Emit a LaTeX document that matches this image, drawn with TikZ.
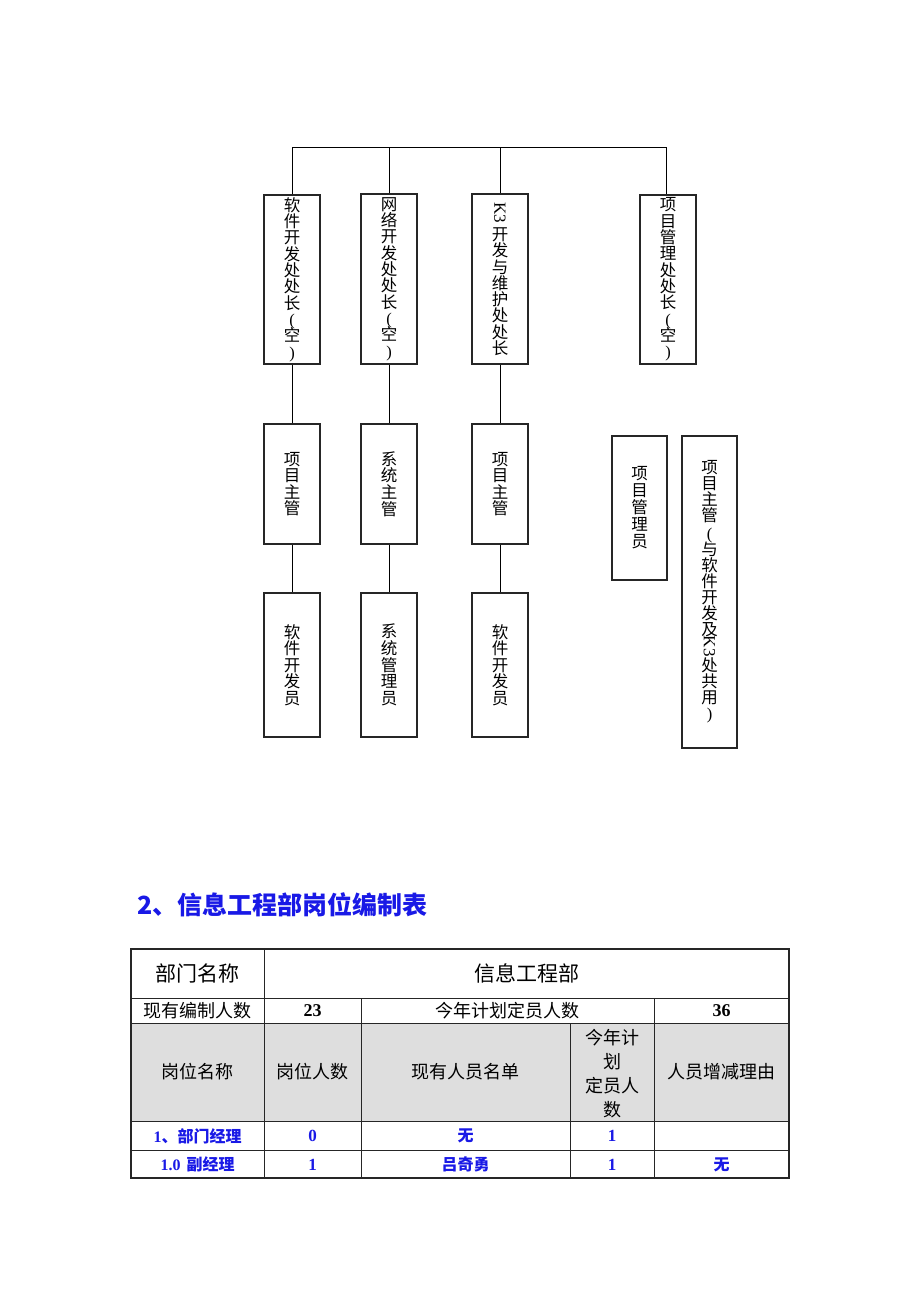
\documentclass[tikz,border=0pt]{standalone}
\usepackage{fontspec}
\usepackage{graphicx}
\usetikzlibrary{calc}
\newfontfamily\cjk{Noto Sans CJK SC}
\newfontfamily\serif{Liberation Serif}
\definecolor{tblue}{RGB}{25,25,230}
\definecolor{hdrgray}{RGB}{222,222,222}
\newcommand\orgfont[2]{\cjk\fontsize{#1}{#2}\selectfont\lineskiplimit=-20pt\relax}
\newcommand\lp{{\serif(}}
\newcommand\rp{{\serif)}}
\begin{document}
\begin{tikzpicture}[x=1pt,y=-1pt,
 orgbox/.style={draw=black!85, line width=1.2pt, inner sep=0pt, align=center, minimum width=56pt},
 tall/.style={font={\orgfont{16.5}{16.3}}},
 short/.style={font={\orgfont{16.5}{16.6}}},
 link/.style={draw=black, line width=0.8pt},
 cell/.style={inner sep=0pt, align=center},
 big/.style={font=\cjk\fontsize{21}{24}\selectfont},
 mid/.style={font=\cjk\fontsize{18}{24}\selectfont},
 num/.style={font=\serif\bfseries\fontsize{18}{20}\selectfont},
 bluetxt/.style={text=tblue, font=\cjk\bfseries\fontsize{16}{18}\selectfont},
 bluenum/.style={text=tblue, font=\serif\bfseries\fontsize{17}{18}\selectfont},
 outer/.style={draw=black!85, line width=1.3pt},
 inner/.style={draw=black!85, line width=0.8pt},
]
\useasboundingbox (0,0) rectangle (920,1302);

% ---------- org chart ----------
\coordinate (bus) at (0,147);
\node[orgbox, tall, minimum height=169pt] (A) at (292,279.5) {软\\件\\开\\发\\处\\处\\长\\\lp\\空\\\rp};
\node[orgbox, tall, minimum height=170pt] (B) at (389,279) {网\\络\\开\\发\\处\\处\\长\\\lp\\空\\\rp};
\node[orgbox, tall, minimum height=170pt] (C) at (500,279) {\rotatebox[origin=c]{-90}{\serif\fontsize{17}{17}\selectfont K3}\\[6pt]开\\发\\与\\维\\护\\处\\处\\长};
\node[orgbox, tall, minimum height=169pt] (D) at (668,279.5) {项\\目\\管\\理\\处\\处\\长\\\lp\\空\\\rp};

\node[orgbox, short, minimum height=120pt] (A2) at (292,484) {项\\目\\主\\管};
\node[orgbox, short, minimum height=120pt] (B2) at (389,484) {系\\统\\主\\管};
\node[orgbox, short, minimum height=120pt] (C2) at (500,484) {项\\目\\主\\管};
\node[orgbox, font={\orgfont{16.5}{17}}, minimum width=55pt, minimum height=144pt] (D2a) at (639.5,508) {项\\目\\管\\理\\员};
\node[orgbox, font={\orgfont{16.5}{16}}, minimum width=55pt, minimum height=312pt] (D2b) at (709.5,592)
  {项\\目\\主\\管\\[2pt]\lp\\与\\软\\件\\开\\发\\及\\\rotatebox[origin=c]{-90}{\serif\fontsize{17}{17}\selectfont K3}\\[4pt]处\\共\\用\\\rp};

\node[orgbox, short, minimum height=144pt] (A3) at (292,665) {软\\件\\开\\发\\员};
\node[orgbox, short, minimum height=144pt] (B3) at (389,665) {系\\统\\管\\理\\员};
\node[orgbox, short, minimum height=144pt] (C3) at (500,665) {软\\件\\开\\发\\员};

% bus and drops
\draw[link] (A.north) -- (A.north |- bus) -- ($(D.north |- bus)+(-2,0)$) -- ($(D.north)+(-2,0)$);
\draw[link] (B.north) -- (B.north |- bus);
\draw[link] (C.north) -- (C.north |- bus);

% level links
\draw[link] (A.south) -- (A2.north);
\draw[link] (B.south) -- (B2.north);
\draw[link] (C.south) -- (C2.north);
\draw[link] ($(D.south)+(-14,0)$) -- ($(D.south)+(-14,0)$ |- D2a.north);
\draw[link] ($(D.south east)+(-0.5,0)$) -- ($(D.south east)+(-0.5,0)$ |- D2b.north);
\draw[link] (A2.south) -- (A3.north);
\draw[link] (B2.south) -- (B3.north);
\draw[link] (C2.south) -- (C3.north);

% ---------- title ----------
\node[anchor=west, inner sep=0pt, text=tblue, font=\cjk\bfseries\fontsize{25}{26}\selectfont] (title) at (137,905) {2、信息工程部岗位编制表};

% ---------- table ----------
\fill[hdrgray] (131,1023) rectangle (789,1121);
\draw[inner] (131,998) -- (789,998);
\draw[inner] (131,1023) -- (789,1023);
\draw[inner] (131,1121) -- (789,1121);
\draw[inner] (131,1150) -- (789,1150);
\draw[inner] (264,949) -- (264,1178);
\draw[inner] (361,998) -- (361,1178);
\draw[inner] (570,1023) -- (570,1178);
\draw[inner] (654,998) -- (654,1178);
\draw[outer] (131,949) rectangle (789,1178);

% row 1
\node[cell, big] (r1c1) at (197.5,973.5) {部门名称};
\node[cell, big] (r1c2) at (526.5,973.5) {信息工程部};
% row 2
\node[cell, mid] (r2c1) at (197.5,1010.5) {现有编制人数};
\node[cell, num] (r2c2) at (312.5,1010.5) {23};
\node[cell, mid] (r2c3) at (507.5,1010.5) {今年计划定员人数};
\node[cell, num] (r2c5) at (721.5,1010.5) {36};
% row 3
\node[cell, mid] (r3c1) at (197.5,1072) {岗位名称};
\node[cell, mid] (r3c2) at (312.5,1072) {岗位人数};
\node[cell, mid] (r3c3) at (465.5,1072) {现有人员名单};
\node[cell, font=\cjk\fontsize{18}{24}\selectfont] (r3c4) at (612,1074) {今年计\\划\\定员人\\数};
\node[cell, mid] (r3c5) at (721.5,1072) {人员增减理由};
% row 4
\node[cell, bluetxt] (r4c1) at (197.5,1136) {{\serif 1}、部门经理};
\node[cell, bluenum] (r4c2) at (312.5,1136) {0};
\node[cell, bluetxt] (r4c3) at (465.5,1136) {无};
\node[cell, bluenum] (r4c4) at (612,1136) {1};
% row 5
\node[cell, bluetxt] (r5c1) at (197.5,1164.5) {{\serif 1.0}\hspace{6pt}副经理};
\node[cell, bluenum] (r5c2) at (312.5,1164.5) {1};
\node[cell, bluetxt] (r5c3) at (465.5,1164.5) {吕奇勇};
\node[cell, bluenum] (r5c4) at (612,1164.5) {1};
\node[cell, bluetxt] (r5c5) at (721.5,1164.5) {无};
\end{tikzpicture}
\end{document}
